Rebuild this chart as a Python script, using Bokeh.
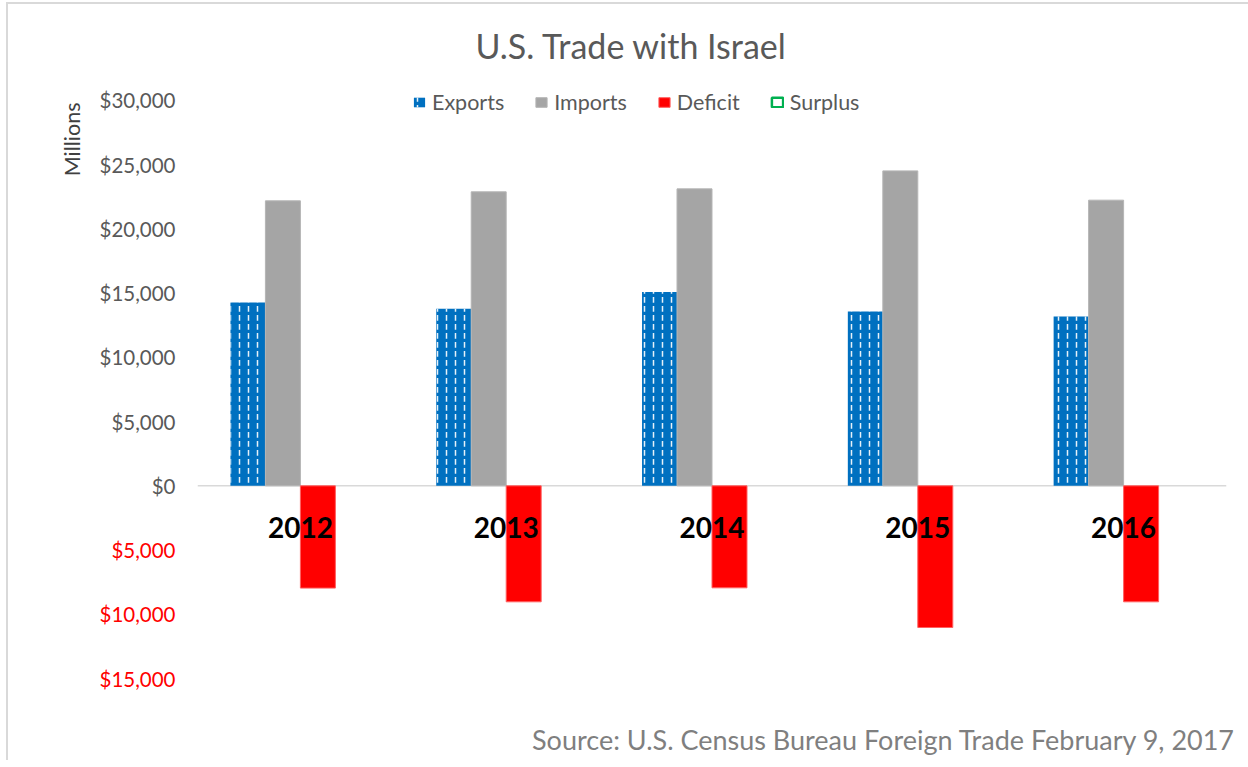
from bokeh.plotting import figure
from bokeh.models import (FactorRange, Range1d, FixedTicker, NumeralTickFormatter, LinearAxis,
                          Span, Label, Title, ColumnDataSource, Legend, LegendItem)
from bokeh.transform import dodge
from bokeh.embed import file_html
from bokeh.resources import INLINE
from bokeh.core.properties import value

# ---- data (millions of US$) ----
years = ["2012", "2013", "2014", "2015", "2016"]
exports = [14270, 13780, 15100, 13570, 13180]
imports = [22190, 22890, 23120, 24520, 22240]
deficit = [-7960, -9030, -7940, -11030, -9030]
surplus = [0, 0, 0, 0, 0]

pos_ticks = [0, 5000, 10000, 15000, 20000, 25000, 30000]
neg_ticks = [-5000, -10000, -15000]
neg_tick_labels = ["$5,000", "$10,000", "$15,000"]

title_text = "U.S. Trade with Israel"
axis_title = "Millions"
source_text = "Source: U.S. Census Bureau Foreign Trade February 9, 2017"

FONT = "Lato"
GRAY_TXT = "#595959"
TICK_SIZE = "20.5px"

src = ColumnDataSource(dict(year=years, exports=exports, imports=imports,
                            deficit=deficit, surplus=surplus, zero=[0] * len(years)))

# frame spans px 197..1226 horizontally; 30,000 sits at y=100 and -15,000 at y=678
p = figure(width=1248, height=760,
           x_range=FactorRange(*years), y_range=Range1d(-17880, 36228),
           output_backend="svg", toolbar_location=None, x_axis_location=None,
           min_border_left=197, min_border_right=22, min_border_top=20, min_border_bottom=45,
           background_fill_color="white", border_fill_alpha=0,
           outline_line_color=None)
# thin light-gray chart-area border (left and top edges)
p.styles = {"background": "linear-gradient(#D9D9D9, #D9D9D9) 6px 2px / 2px 100% no-repeat, "
                          "linear-gradient(#D9D9D9, #D9D9D9) 6px 2px / 100% 2px no-repeat, white"}

w = 0.17
r_exp = p.vbar(x=dodge("year", -0.255, range=p.x_range), top="exports", bottom=0, width=w,
               source=src, fill_color="#0070C0", line_color=None,
               hatch_pattern="vertical_dash", hatch_color="white", hatch_scale=9,
               hatch_weight=1.5, hatch_alpha=0.9)
r_imp = p.vbar(x=dodge("year", -0.085, range=p.x_range), top="imports", bottom=0, width=w,
               source=src, fill_color="#A5A5A5", line_color="#B5B5B5", line_width=1)
r_def = p.vbar(x=dodge("year", 0.085, range=p.x_range), top=0, bottom="deficit", width=w,
               source=src, fill_color="#FF0000", line_color="#FF6060", line_width=1)
r_sur = p.vbar(x=dodge("year", 0.255, range=p.x_range), top="surplus", bottom=0, width=w,
               source=src, fill_color="white", line_color="#00B050", line_width=2.5)
r_sur.visible = False

p.add_layout(Span(location=0, dimension="width", line_color="#D9D9D9", line_width=1.5,
                  level="underlay"))

# category labels just under the zero line
p.text(x="year", y="zero", text="year", source=src, text_align="center",
       text_baseline="middle", y_offset=42, text_font=value(FONT),
       text_font_style="bold", text_font_size="28px", text_color="black")

# positive y axis (gray), next to the frame
p.yaxis.ticker = FixedTicker(ticks=pos_ticks)
p.yaxis.formatter = NumeralTickFormatter(format="$0,0")
p.yaxis.major_label_text_font = FONT
p.yaxis.major_label_text_font_size = TICK_SIZE
p.yaxis.major_label_text_color = GRAY_TXT
p.yaxis.axis_line_color = None
p.yaxis.major_tick_line_color = None
p.yaxis.minor_tick_line_color = None
p.yaxis.major_tick_out = 0
p.yaxis.major_tick_in = 0
p.yaxis.major_label_standoff = 22
p.grid.grid_line_color = None

# negative y axis (red, no minus sign); pulled back over the first axis' label column
neg_axis = LinearAxis(ticker=FixedTicker(ticks=neg_ticks),
                      major_label_overrides=dict(zip(neg_ticks, neg_tick_labels)),
                      major_label_text_font=FONT, major_label_text_font_size=TICK_SIZE,
                      major_label_text_color="#FF0000", axis_line_color=None,
                      major_tick_line_color=None, minor_tick_line_color=None,
                      major_tick_out=0, major_tick_in=0, major_label_standoff=-79)
p.add_layout(neg_axis, "left")

# "Millions" on the left, near the top
p.add_layout(Title(text=axis_title, align="right", offset=82, standoff=23,
                   text_font=FONT, text_font_size="21.5px", text_font_style="normal",
                   text_color="#404040"), "left")

# chart title
p.add_layout(Label(x=0, y=34243, x_offset=434, text=title_text, text_align="center",
                   text_baseline="middle", text_font=FONT, text_font_size="34px",
                   text_color=GRAY_TXT))

# source note
p.add_layout(Title(text=source_text, align="right", offset=-9,
                   text_font=FONT, text_font_size="27px", text_font_style="normal",
                   text_color="#7F7F7F"), "below")

legend = Legend(items=[LegendItem(label="Exports", renderers=[r_exp]),
                       LegendItem(label="Imports", renderers=[r_imp]),
                       LegendItem(label="Deficit", renderers=[r_def]),
                       LegendItem(label="Surplus", renderers=[r_sur])],
                orientation="horizontal", location=(215, 600),
                glyph_width=14, glyph_height=12, label_height=14, label_standoff=6,
                spacing=30, padding=0, margin=0,
                label_text_font=FONT, label_text_font_size="21.5px",
                label_text_color=GRAY_TXT, border_line_color=None,
                background_fill_alpha=0, inactive_fill_alpha=0)
p.add_layout(legend)

open("out.html", "w").write(file_html(p, INLINE))
